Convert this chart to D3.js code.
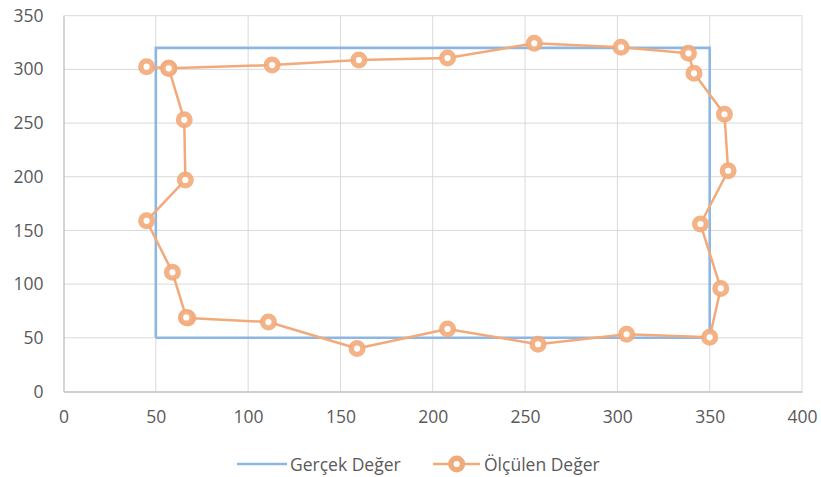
<!DOCTYPE html>
<html><head><meta charset="utf-8">
<script src="https://cdn.jsdelivr.net/npm/d3@7"></script>
<style>body{margin:0;background:#fff}svg{display:block}text{font-family:"Open Sans",sans-serif}</style>
</head><body><svg id="c" width="821" height="477"></svg>
<script>
const xTicks = [0,50,100,150,200,250,300,350,400];
const yTicks = [0,50,100,150,200,250,300,350];
const trueX = [50,50,350,350,50];
const trueY = [50,320,320,50,50];
const measX = [45,57,113,160,208,255,302,338.5,341.5,358,360,345,356,350,305,257,208,159,111,67.3,66.5,59,45,66,65.4,57];
const measY = [302.5,301,304,308.7,310.6,324.3,320.6,315,296.3,258.2,205.6,156,96,50.5,53.3,44,58.2,40,64.7,68.5,69,111,159,197,253,301];
const seriesNames = ["Gerçek Değer","Ölçülen Değer"];

const FS = "17.5px";
const svg = d3.select("#c");
const x = d3.scaleLinear().domain([0,400]).range([63.5,802]);
const y = d3.scaleLinear().domain([0,350]).range([391.5,15.7]);

const g = svg.append("g");
g.selectAll(".gx").data(xTicks.slice(1)).join("line")
 .attr("x1",d=>x(d)).attr("x2",d=>x(d)).attr("y1",y(0)).attr("y2",y(350))
 .attr("stroke","#d9d9d9").attr("stroke-width",1);
g.selectAll(".gy").data(yTicks.slice(1)).join("line")
 .attr("x1",x(0)).attr("x2",x(400)).attr("y1",d=>y(d)).attr("y2",d=>y(d))
 .attr("stroke","#d9d9d9").attr("stroke-width",1);
// axes
const xa = svg.append("g").attr("transform",`translate(0,${y(0)})`)
 .call(d3.axisBottom(x).tickValues(xTicks).tickSize(0).tickPadding(19.5));
const ya = svg.append("g").attr("transform",`translate(${x(0)},0)`)
 .call(d3.axisLeft(y).tickValues(yTicks).tickSize(0).tickPadding(20));
[xa,ya].forEach(a=>{a.select(".domain").attr("stroke","#bfbfbf").attr("stroke-width",1.3);
 a.selectAll("text").attr("fill","#595959").style("font-size",FS).style("font-family","'Open Sans',sans-serif");});

const line = d3.line().x(d=>x(d[0])).y(d=>y(d[1]));
const tData = trueX.map((v,i)=>[v,trueY[i]]);
const mData = measX.map((v,i)=>[v,measY[i]]);
svg.append("path").datum(tData).attr("d",line).attr("fill","none")
 .attr("stroke","#8db7e2").attr("stroke-width",2.6);
svg.append("path").datum(mData).attr("d",line).attr("fill","none")
 .attr("stroke","#f3aa7a").attr("stroke-width",2.5).attr("stroke-linejoin","round");
svg.selectAll(".m").data(mData).join("circle")
 .attr("cx",d=>x(d[0])).attr("cy",d=>y(d[1])).attr("r",5.8)
 .attr("fill","#fff").attr("stroke","#f3aa7a").attr("stroke-opacity",0.9).attr("stroke-width",5.4);

// legend
const lg = svg.append("g");
lg.append("line").attr("x1",237).attr("x2",287).attr("y1",464).attr("y2",464).attr("stroke","#8db7e2").attr("stroke-width",2.6);
lg.append("text").attr("x",290).attr("y",471).text(seriesNames[0]).attr("fill","#595959").style("font-size",FS);
lg.append("line").attr("x1",433).attr("x2",480).attr("y1",464).attr("y2",464).attr("stroke","#f3aa7a").attr("stroke-width",2.5);
lg.append("circle").attr("cx",456.7).attr("cy",464).attr("r",5.8).attr("fill","#fff").attr("stroke","#f3aa7a").attr("stroke-width",5.4);
lg.append("text").attr("x",484).attr("y",471).text(seriesNames[1]).attr("fill","#595959").style("font-size",FS);
</script></body></html>
